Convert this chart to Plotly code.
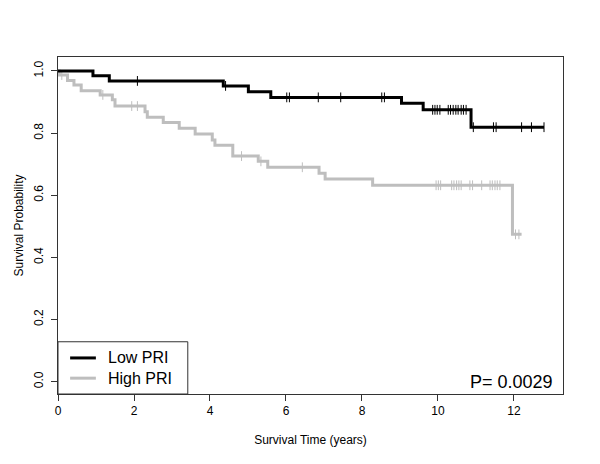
import numpy as np
import plotly.graph_objects as go

# Kaplan-Meier step curves
low_times = [0, 0.92, 1.35, 4.35, 5.01, 5.6, 9.04, 9.61, 10.87]
low_surv = [1.0, 0.985, 0.968, 0.952, 0.933, 0.915, 0.896, 0.875, 0.819]
low_end = 12.79
low_censor = [2.09, 4.41, 6.02, 6.09, 6.85, 7.44, 8.52, 8.59, 9.86, 9.92, 9.98,
              10.05, 10.27, 10.33, 10.40, 10.47, 10.53, 10.61, 10.67, 10.74,
              10.93, 11.46, 11.53, 12.2, 12.46, 12.79]

high_times = [0, 0.03, 0.25, 0.42, 0.61, 1.11, 1.43, 1.5, 2.29, 2.35, 2.77, 3.19,
              3.61, 4.06, 4.13, 4.6, 5.27, 5.52, 6.87, 7.03, 8.28, 11.96]
high_surv = [1.0, 0.987, 0.969, 0.955, 0.936, 0.923, 0.907, 0.887, 0.869, 0.851,
             0.834, 0.816, 0.797, 0.778, 0.761, 0.726, 0.709, 0.690, 0.671, 0.652,
             0.632, 0.474]
high_end = 12.2
high_censor = [0.1, 1.18, 1.94, 2.09, 4.83, 5.34, 6.43, 9.95, 10.01, 10.07, 10.36,
               10.42, 10.49, 10.55, 10.61, 10.84, 10.91, 11.15, 11.37, 11.43, 11.5,
               11.56, 11.63, 12.04, 12.13]

x_ticks = [0, 2, 4, 6, 8, 10, 12]
y_ticks = [0.0, 0.2, 0.4, 0.6, 0.8, 1.0]
p_text = "P= 0.0029"
legend_names = ["Low PRI", "High PRI"]
legend_colors = ["black", "#bebebe"]

FONT = "Liberation Sans, Arial, sans-serif"


def step_value(times, surv, t):
    i = np.searchsorted(times, t, side="right") - 1
    return surv[i]


def km_traces(times, surv, end, censor, color):
    xs = list(times) + [end]
    ys = list(surv) + [surv[-1]]
    line = go.Scatter(x=xs, y=ys, mode="lines", line_shape="hv", showlegend=False,
                      line=dict(color=color, width=3))
    cy = [step_value(times, surv, t) for t in censor]
    marks = go.Scatter(x=censor, y=cy, mode="markers", showlegend=False,
                       marker=dict(symbol="line-ns", size=7,
                                   line=dict(color=color, width=1)))
    return [line, marks]


fig = go.Figure()
for tr in km_traces(high_times, high_surv, high_end, high_censor, legend_colors[1]):
    fig.add_trace(tr)
for tr in km_traces(low_times, low_surv, low_end, low_censor, legend_colors[0]):
    fig.add_trace(tr)

# legend box drawn R-style in the bottom-left corner of the plot
fig.add_shape(type="rect", xref="x domain", yref="y domain", x0=0, x1=0.257,
              y0=0, y1=0.155, line=dict(color="#333333", width=1), fillcolor="white")
for i, (name, color) in enumerate(zip(legend_names, legend_colors)):
    yy = 0.107 - i * 0.06
    fig.add_shape(type="line", xref="x domain", yref="y domain", x0=0.024, x1=0.075,
                  y0=yy, y1=yy, line=dict(color=color, width=3))
    fig.add_annotation(text=name, xref="x domain", yref="y domain", x=0.095, y=yy,
                       xanchor="left", yanchor="middle", showarrow=False,
                       font=dict(size=16, color="black", family=FONT))

fig.add_annotation(text=p_text, xref="x domain", yref="y", x=0.985, y=0.0,
                   xanchor="right", yanchor="middle", showarrow=False,
                   font=dict(size=18, color="black", family=FONT))

axis_common = dict(showline=True, linecolor="#333333", linewidth=1, mirror=True,
                   ticks="outside", ticklen=6, tickcolor="#333333", showgrid=False,
                   zeroline=False, automargin=False,
                   tickfont=dict(size=12, color="black", family=FONT))

fig.update_layout(
    width=600, height=464,
    margin=dict(l=58, r=37, t=57, b=70),
    paper_bgcolor="white", plot_bgcolor="white",
    font=dict(family=FONT, color="black"),
    showlegend=False,
    xaxis=dict(range=[0, 13.29], tickvals=x_ticks,
               title=dict(text="Survival Time (years)", font=dict(size=12), standoff=18),
               **axis_common),
    yaxis=dict(range=[-0.04, 1.045], tickvals=y_ticks, ticktext=[f"{v:.1f}" for v in y_ticks],
               tickangle=-90, ticklabelstandoff=3,
               title=dict(text="Survival Probability", font=dict(size=12), standoff=6),
               **axis_common),
)

# drop the browser's default page margin so the figure sits at the top-left corner
fig.write_html("out.html", config={"displayModeBar": False},
               post_script="document.body.style.margin = '0px';")
